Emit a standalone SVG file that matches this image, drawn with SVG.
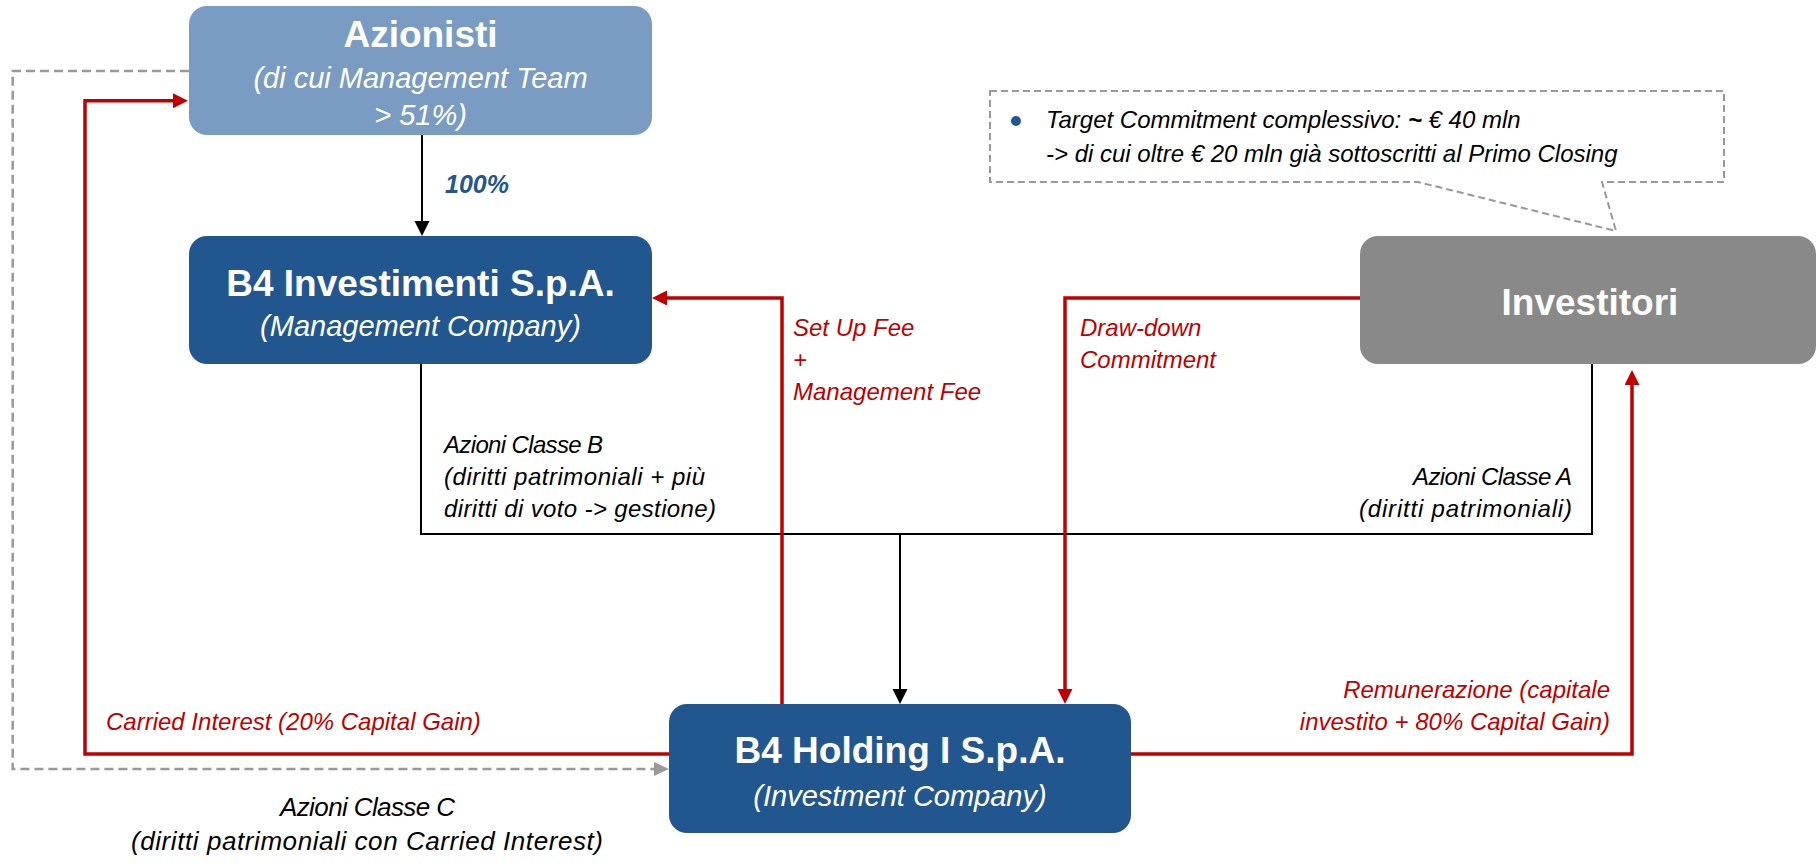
<svg xmlns="http://www.w3.org/2000/svg" width="1818" height="863" viewBox="0 0 1818 863">
<style>
  .title{font-family:"Liberation Sans",Arial,sans-serif;font-weight:bold;font-size:37px;fill:#fff;text-anchor:middle}
  .sub{font-family:"Liberation Sans",Arial,sans-serif;font-style:italic;font-size:29px;fill:#fff;text-anchor:middle}
  .lbl{font-family:"Liberation Sans",Arial,sans-serif;font-style:italic;font-size:24px;fill:#000}
  .red{fill:#C00000}
  .pct{fill:#22568F;font-weight:bold;font-size:25px}
  .big{font-size:26px}
  .blk{fill:none;stroke:#000;stroke-width:2}
  .rl{fill:none;stroke:#C00000;stroke-width:3.5}
  .gd{fill:none;stroke:#999;stroke-width:2.5;stroke-dasharray:9 5}
</style>
<defs>
  <marker id="ab" markerUnits="userSpaceOnUse" markerWidth="16" markerHeight="16" refX="0" refY="7.5" orient="auto"><path d="M0,0 L15,7.5 L0,15 z" fill="#000"/></marker>
  <marker id="ar" markerUnits="userSpaceOnUse" markerWidth="16" markerHeight="16" refX="0" refY="7.5" orient="auto"><path d="M0,0 L15,7.5 L0,15 z" fill="#C00000"/></marker>
  <marker id="ag" markerUnits="userSpaceOnUse" markerWidth="16" markerHeight="16" refX="0" refY="7" orient="auto"><path d="M0,0 L15,7 L0,14 z" fill="#999"/></marker>
</defs>
<rect width="1818" height="863" fill="#fff"/>

<g id="callout">
  <path d="M990,91 H1724 V182 H1602 L1616,231 L1418,182 H990 Z" fill="#fff" stroke="#999" stroke-width="2" stroke-dasharray="7 4"/>
  <circle cx="1016" cy="121" r="5" fill="#22568F"/>
  <text class="lbl" x="1046" y="128">Target Commitment complessivo: <tspan font-weight="bold">~</tspan> € 40 mln</text>
  <text class="lbl" x="1046" y="162">-&gt; di cui oltre € 20 mln già sottoscritti al Primo Closing</text>
</g>

<g id="connectors">
  <path class="gd" d="M189,71 H12.7 V769 H654" marker-end="url(#ag)"/>
  <path class="blk" d="M422,135 V221" marker-end="url(#ab)"/>
  <path class="blk" d="M421,364 V534 H1592 V364"/>
  <path class="blk" d="M900,534 V689" marker-end="url(#ab)"/>
  <path class="rl" d="M782,704 V298 H667" marker-end="url(#ar)"/>
  <path class="rl" d="M1360,298 H1065 V689" marker-end="url(#ar)"/>
  <path class="rl" d="M669,754 H85 V100.7 H173" marker-end="url(#ar)"/>
  <path class="rl" d="M1131,754 H1632 V385" marker-end="url(#ar)"/>
  <text class="lbl pct" x="445" y="193">100%</text>
  <text class="lbl red" x="793" y="336">Set Up Fee</text>
  <text class="lbl red" x="793" y="368">+</text>
  <text class="lbl red" x="793" y="400">Management Fee</text>
  <text class="lbl red" x="1080" y="336">Draw-down</text>
  <text class="lbl red" x="1080" y="368">Commitment</text>
  <text class="lbl" x="444" y="453" textLength="159">Azioni Classe B</text>
  <text class="lbl" x="444" y="485" textLength="261">(diritti patrimoniali + più</text>
  <text class="lbl" x="444" y="517" textLength="272">diritti di voto -&gt; gestione)</text>
  <text class="lbl" x="1413" y="485" textLength="159">Azioni Classe A</text>
  <text class="lbl" x="1359" y="517" textLength="213">(diritti patrimoniali)</text>
  <text class="lbl red" x="106" y="730">Carried Interest (20% Capital Gain)</text>
  <text class="lbl red" x="1610" y="698" text-anchor="end">Remunerazione (capitale</text>
  <text class="lbl red" x="1610" y="730" text-anchor="end">investito + 80% Capital Gain)</text>
  <text class="lbl big" x="280" y="816" textLength="175">Azioni Classe C</text>
  <text class="lbl big" x="131" y="850" textLength="472">(diritti patrimoniali con Carried Interest)</text>
</g>

<g id="azionisti">
  <rect x="189" y="6" width="463" height="129" rx="18" fill="#7A9BC2"/>
  <text class="title" x="420.5" y="47">Azionisti</text>
  <text class="sub" x="420.5" y="88">(di cui Management Team</text>
  <text class="sub" x="420.5" y="125">&gt; 51%)</text>
</g>

<g id="b4investimenti">
  <rect x="189" y="236" width="463" height="128" rx="18" fill="#22568F"/>
  <text class="title" x="420.5" y="296">B4 Investimenti S.p.A.</text>
  <text class="sub" x="420.5" y="336">(Management Company)</text>
</g>

<g id="investitori">
  <rect x="1360" y="236" width="456" height="128" rx="18" fill="#898989"/>
  <text class="title" x="1590" y="315">Investitori</text>
</g>

<g id="b4holding">
  <rect x="669" y="704" width="462" height="129" rx="18" fill="#22568F"/>
  <text class="title" x="900" y="763">B4 Holding I S.p.A.</text>
  <text class="sub" x="900" y="806">(Investment Company)</text>
</g>
</svg>
